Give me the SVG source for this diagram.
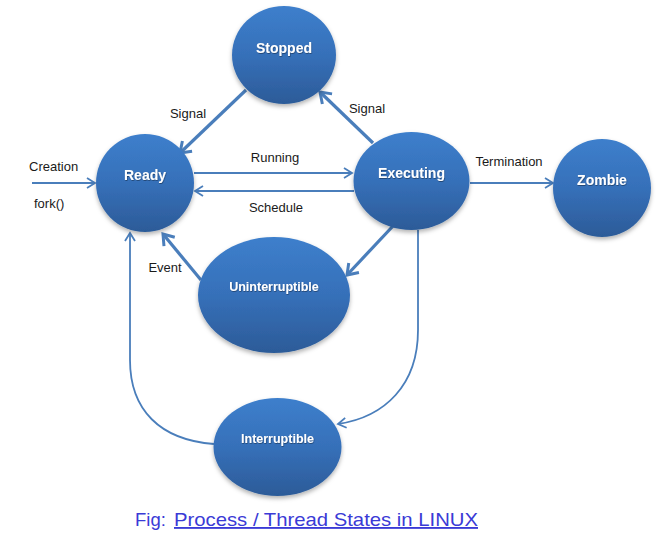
<svg xmlns="http://www.w3.org/2000/svg" width="670" height="538" viewBox="0 0 670 538">
<defs>
<linearGradient id="g" x1="0" y1="0" x2="0" y2="1">
<stop offset="0" stop-color="#3d7fcc"/>
<stop offset="0.5" stop-color="#3670b9"/>
<stop offset="1" stop-color="#2c5b98"/>
</linearGradient>
<filter id="sh" x="-20%" y="-20%" width="140%" height="150%">
<feDropShadow dx="0" dy="2.5" stdDeviation="2" flood-color="#000" flood-opacity="0.3"/>
</filter>
<filter id="ts" x="-10%" y="-30%" width="120%" height="160%">
<feDropShadow dx="0.5" dy="0.8" stdDeviation="0.6" flood-color="#000" flood-opacity="0.45"/>
</filter>
<marker id="a" markerUnits="userSpaceOnUse" markerWidth="14" markerHeight="14" viewBox="0 0 14 14" refX="12" refY="7" orient="auto">
<path d="M4,2 L12,7 L4,12" fill="none" stroke="#4a7ebb" stroke-width="1.8"/>
</marker>
<marker id="b" markerUnits="userSpaceOnUse" markerWidth="18" markerHeight="18" viewBox="0 0 18 18" refX="15" refY="9" orient="auto">
<path d="M5,2 L15,9 L5,16" fill="none" stroke="#4a7ebb" stroke-width="3"/>
</marker>
</defs>
<style>
.n{fill:url(#g);filter:url(#sh)}
.t{fill:#fff;font-family:"Liberation Sans",Arial,sans-serif;font-weight:bold;text-anchor:middle;filter:url(#ts)}
.l{fill:#1a1a1a;font-family:"Liberation Sans",Arial,sans-serif;font-size:13px}
.c{fill:none;stroke:#4a7ebb;stroke-width:1.8;marker-end:url(#a)}
.k{fill:none;stroke:#4a7ebb;stroke-width:3.2;marker-end:url(#b)}
</style>
<rect width="670" height="538" fill="#fff"/>
<g id="connectors">
<line class="c" x1="32" y1="183" x2="95" y2="183"/>
<line class="c" x1="194" y1="173" x2="352" y2="173"/>
<line class="c" x1="354" y1="191" x2="195" y2="191"/>
<line class="c" x1="470" y1="183" x2="553" y2="183"/>
<line class="k" x1="246" y1="90" x2="180" y2="153"/>
<line class="k" x1="373" y1="143" x2="320" y2="92"/>
<line class="k" x1="393" y1="226" x2="347" y2="275"/>
<line class="k" x1="201" y1="280" x2="163" y2="234"/>
<path class="c" d="M418,230 L418,330 C418,385 385,417 338,424"/>
<path class="c" d="M214,444 C160,440 130,410 130,360 L130,233"/>
</g>
<g id="labels">
<text class="l" x="29" y="171">Creation</text>
<text class="l" x="34" y="208">fork()</text>
<text class="l" x="188" y="118" text-anchor="middle">Signal</text>
<text class="l" x="367" y="113" text-anchor="middle">Signal</text>
<text class="l" x="275" y="162" text-anchor="middle">Running</text>
<text class="l" x="276" y="212" text-anchor="middle">Schedule</text>
<text class="l" x="509" y="166" text-anchor="middle">Termination</text>
<text class="l" x="165" y="272" text-anchor="middle">Event</text>
</g>
<g id="stopped"><ellipse class="n" cx="284" cy="55" rx="52" ry="49"/><text class="t" x="284" y="53" font-size="14">Stopped</text></g>
<g id="ready"><ellipse class="n" cx="145" cy="183" rx="49" ry="49"/><text class="t" x="145" y="180" font-size="14">Ready</text></g>
<g id="executing"><ellipse class="n" cx="411.5" cy="181" rx="58" ry="49"/><text class="t" x="411.5" y="178" font-size="14">Executing</text></g>
<g id="zombie"><ellipse class="n" cx="602" cy="188" rx="49" ry="49"/><text class="t" x="602" y="185" font-size="14">Zombie</text></g>
<g id="uninterruptible"><ellipse class="n" cx="274" cy="295" rx="76" ry="58"/><text class="t" x="274" y="291" font-size="12.5">Uninterruptible</text></g>
<g id="interruptible"><ellipse class="n" cx="277.5" cy="447" rx="64" ry="49"/><text class="t" x="277.5" y="443" font-size="12.5">Interruptible</text></g>
<g id="caption" font-family="'Liberation Sans',Arial,sans-serif" font-size="18.5" fill="#3a3ad6">
<text x="135" y="526">Fig: </text>
<text x="174" y="526" text-decoration="underline" textLength="304" lengthAdjust="spacingAndGlyphs">Process / Thread States in LINUX</text>
</g>
</svg>
